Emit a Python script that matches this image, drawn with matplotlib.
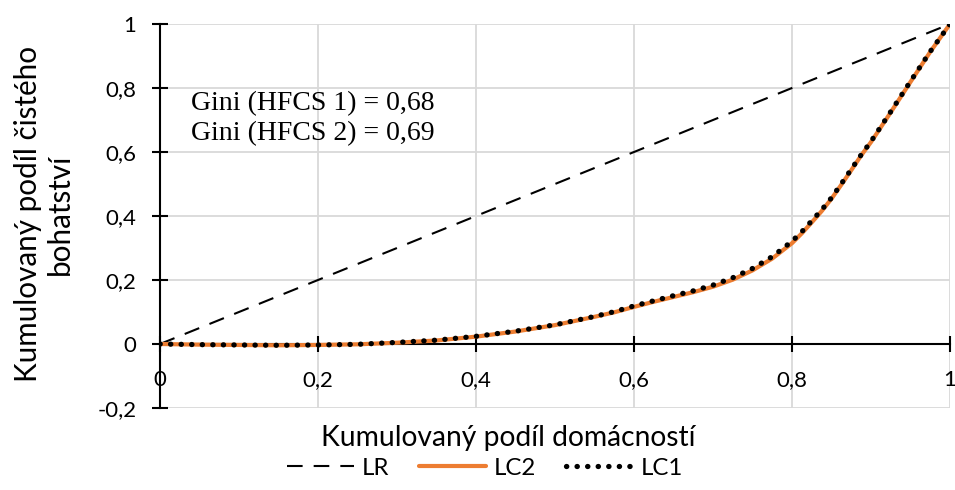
import matplotlib

matplotlib.use("Agg")
import matplotlib.pyplot as plt  # noqa: E402
from matplotlib.ticker import FuncFormatter, MultipleLocator  # noqa: E402

# Cumulative share of households (x) and of net wealth (y)
share_households = [0, 0.05, 0.1, 0.15, 0.2, 0.25, 0.3, 0.35, 0.4, 0.45, 0.5,
                    0.525, 0.55, 0.575, 0.6, 0.625, 0.65, 0.675, 0.7, 0.725,
                    0.75, 0.775, 0.8, 0.8125, 0.825, 0.8375, 0.85, 0.8625,
                    0.875, 0.8875, 0.9, 0.925, 0.95, 0.975, 1.0]
lc1 = [0, -0.002, -0.003, -0.004, -0.003, -0.001, 0.005, 0.012, 0.024, 0.040,
       0.060, 0.073, 0.086, 0.101, 0.119, 0.135, 0.151, 0.166, 0.184, 0.207,
       0.236, 0.273, 0.321, 0.351, 0.385, 0.419, 0.457, 0.501,
       0.546, 0.591, 0.633, 0.726, 0.821, 0.914, 1.0]
lc2 = [0, -0.002, -0.003, -0.004, -0.003, -0.001, 0.004, 0.011, 0.023, 0.039,
       0.059, 0.072, 0.085, 0.099, 0.116, 0.132, 0.147, 0.162, 0.179, 0.201,
       0.230, 0.267, 0.315, 0.346, 0.380, 0.415, 0.454, 0.498,
       0.543, 0.589, 0.631, 0.724, 0.819, 0.913, 1.0]
equality_x = [0, 1]
equality_y = [0, 1]

gini_text = "Gini (HFCS 1) = 0,68\nGini (HFCS 2) = 0,69"

SANS = "Lato"
SERIF = "Liberation Serif"

fig = plt.figure(figsize=(9.55, 4.9), dpi=100)
ax = fig.add_axes([160 / 955, 1 - 408 / 490, 790 / 955, 384 / 490])

ax.plot(equality_x, equality_y, color="black", lw=1.5, ls=(0, (7.5, 5.3)),
        label="LR", zorder=3)
ax.plot(share_households, lc2, color="#ed7d31", lw=3.0, label="LC2",
        solid_capstyle="round", solid_joinstyle="round", zorder=4)
ax.plot(share_households, lc1, color="black", lw=3.8, ls=(0, (0.05, 1.95)),
        dash_capstyle="round", label="LC1", zorder=5)

ax.set_xlim(0, 1)
ax.set_ylim(-0.2, 1)
ax.xaxis.set_major_locator(MultipleLocator(0.2))
ax.yaxis.set_major_locator(MultipleLocator(0.2))

fmt = FuncFormatter(lambda v, _: ("%g" % round(v, 2)).replace(".", ","))
ax.xaxis.set_major_formatter(fmt)
ax.yaxis.set_major_formatter(fmt)

ax.grid(True, color="#d9d9d9", lw=1.3, zorder=0)
ax.set_axisbelow(True)

for side in ("top", "right"):
    ax.spines[side].set_visible(False)
ax.spines["bottom"].set_position(("data", 0))
ax.spines["bottom"].set_linewidth(1.5)
ax.spines["left"].set_linewidth(1.5)

ax.tick_params(axis="both", direction="inout", length=12, width=1.5,
               labelsize=16, colors="black")
ax.tick_params(axis="x", pad=13)
ax.tick_params(axis="y", pad=11)
for lbl in ax.get_xticklabels() + ax.get_yticklabels():
    lbl.set_family(SANS)

ax.text(0.039, 0.705, gini_text, family=SERIF, fontsize=20,
        va="center", ha="left", linespacing=1.24, zorder=6)

fig.text(508 / 955, 1 - 438 / 490, "Kumulovaný podíl domácností",
         family=SANS, fontsize=20.3, ha="center", va="center")
fig.text(44 / 955, 1 - 214 / 490, "Kumulovaný podíl čistého\nbohatství",
         family=SANS, fontsize=21.3, ha="center", va="center",
         rotation=90, linespacing=1.15)

leg = fig.legend(loc="center", bbox_to_anchor=(485 / 955, 1 - 468 / 490),
                 ncol=3, frameon=False, prop={"family": SANS, "size": 17.3},
                 handlelength=2.8, columnspacing=1.25, handletextpad=0.3)

fig.savefig("out.png", dpi=100)
plt.close(fig)
